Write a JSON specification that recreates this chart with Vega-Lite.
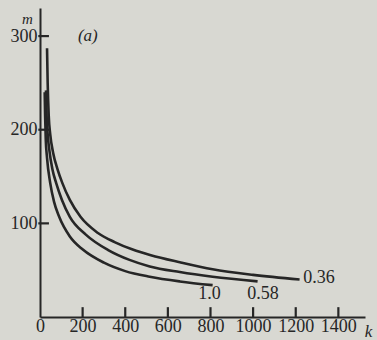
{
  "$schema": "https://vega.github.io/schema/vega-lite/v6.json",
  "width": 325,
  "height": 309,
  "autosize": {"type": "none"},
  "padding": {"left": 40, "top": 8, "right": 12, "bottom": 23},
  "background": "#d8d8d2",
  "config": {"view": {"stroke": null}, "font": "Liberation Serif"},
  "layer": [
    {
      "data": {"values": [{"k": 200}, {"k": 400}, {"k": 600}, {"k": 800}, {"k": 1000}, {"k": 1200}, {"k": 1400}]},
      "mark": {"type": "rule", "strokeWidth": 2.2, "color": "#262626"},
      "encoding": {
        "x": {"field": "k", "type": "quantitative", "scale": {"domain": [0, 1525], "nice": false}},
        "y": {"datum": 0, "type": "quantitative", "scale": {"domain": [0, 330], "nice": false}},
        "y2": {"datum": 10.5}
      }
    },
    {
      "data": {"values": [{"m": 100}, {"m": 200}, {"m": 300}]},
      "mark": {"type": "rule", "strokeWidth": 2.2, "color": "#262626"},
      "encoding": {
        "y": {"field": "m", "type": "quantitative"},
        "x": {"datum": -8, "type": "quantitative"},
        "x2": {"datum": 42}
      }
    },
    {
      "data": {
        "values": [
          {"s": "0.36", "k": 33, "m": 287}, {"s": "0.36", "k": 36, "m": 250}, {"s": "0.36", "k": 41, "m": 215},
          {"s": "0.36", "k": 48, "m": 195}, {"s": "0.36", "k": 62, "m": 175}, {"s": "0.36", "k": 82, "m": 158},
          {"s": "0.36", "k": 105, "m": 143}, {"s": "0.36", "k": 140, "m": 125}, {"s": "0.36", "k": 190, "m": 107},
          {"s": "0.36", "k": 270, "m": 90}, {"s": "0.36", "k": 350, "m": 80}, {"s": "0.36", "k": 435, "m": 72},
          {"s": "0.36", "k": 520, "m": 66}, {"s": "0.36", "k": 656, "m": 58.5}, {"s": "0.36", "k": 810, "m": 51},
          {"s": "0.36", "k": 1000, "m": 45}, {"s": "0.36", "k": 1218, "m": 40},
          {"s": "0.58", "k": 28, "m": 242}, {"s": "0.58", "k": 31, "m": 215}, {"s": "0.58", "k": 36, "m": 195},
          {"s": "0.58", "k": 44, "m": 178}, {"s": "0.58", "k": 58, "m": 158}, {"s": "0.58", "k": 76, "m": 143},
          {"s": "0.58", "k": 103, "m": 125}, {"s": "0.58", "k": 140, "m": 107}, {"s": "0.58", "k": 215, "m": 88},
          {"s": "0.58", "k": 320, "m": 71.5}, {"s": "0.58", "k": 420, "m": 61}, {"s": "0.58", "k": 515, "m": 54},
          {"s": "0.58", "k": 656, "m": 48}, {"s": "0.58", "k": 810, "m": 43}, {"s": "0.58", "k": 1021, "m": 38},
          {"s": "1.0", "k": 22, "m": 240}, {"s": "1.0", "k": 24, "m": 215}, {"s": "1.0", "k": 27, "m": 190},
          {"s": "1.0", "k": 33, "m": 170}, {"s": "1.0", "k": 48, "m": 143}, {"s": "1.0", "k": 66, "m": 123},
          {"s": "1.0", "k": 90, "m": 107}, {"s": "1.0", "k": 140, "m": 86}, {"s": "1.0", "k": 201, "m": 72},
          {"s": "1.0", "k": 300, "m": 58}, {"s": "1.0", "k": 400, "m": 49}, {"s": "1.0", "k": 515, "m": 43},
          {"s": "1.0", "k": 656, "m": 38}, {"s": "1.0", "k": 810, "m": 34}
        ]
      },
      "mark": {"type": "line", "interpolate": "monotone", "strokeWidth": 2.6, "color": "#262626"},
      "encoding": {
        "x": {
          "field": "k", "type": "quantitative",
          "axis": {
            "values": [0, 200, 400, 600, 800, 1000, 1200, 1400], "format": "d",
            "title": "k", "titleFontStyle": "italic", "titleFontWeight": "normal", "titleFontSize": 17,
            "titleX": 328, "titleY": 14, "titleAngle": 0, "titleAlign": "center", "titleBaseline": "middle",
            "titleColor": "#262626",
            "grid": false, "ticks": false, "tickSize": 0,
            "domainColor": "#262626", "domainWidth": 2,
            "labelFontSize": 18, "labelColor": "#262626", "labelPadding": 0,
            "labelFlush": false, "labelOverlap": false
          }
        },
        "y": {
          "field": "m", "type": "quantitative",
          "axis": {
            "values": [100, 200, 300],
            "title": "m", "titleFontStyle": "italic", "titleFontWeight": "normal", "titleFontSize": 15,
            "titleX": -13, "titleY": 10, "titleAngle": 0, "titleAlign": "center", "titleBaseline": "middle",
            "titleColor": "#262626",
            "grid": false, "ticks": false, "tickSize": 0,
            "domainColor": "#262626", "domainWidth": 2,
            "labelFontSize": 18, "labelColor": "#262626", "labelPadding": 3,
            "labelOverlap": false
          }
        },
        "detail": {"field": "s"}
      }
    },
    {
      "data": {
        "values": [
          {"t": "0.36", "k": 1235, "m": 42},
          {"t": "0.58", "k": 972, "m": 25},
          {"t": "1.0", "k": 742, "m": 24.5}
        ]
      },
      "mark": {"type": "text", "align": "left", "baseline": "middle", "fontSize": 18, "color": "#262626"},
      "encoding": {
        "x": {"field": "k", "type": "quantitative"},
        "y": {"field": "m", "type": "quantitative"},
        "text": {"field": "t"}
      }
    },
    {
      "data": {"values": [{"t": "(a)", "k": 178, "m": 300}]},
      "mark": {"type": "text", "align": "left", "baseline": "middle", "fontSize": 17, "fontStyle": "italic", "color": "#262626"},
      "encoding": {
        "x": {"field": "k", "type": "quantitative"},
        "y": {"field": "m", "type": "quantitative"},
        "text": {"field": "t"}
      }
    }
  ]
}
